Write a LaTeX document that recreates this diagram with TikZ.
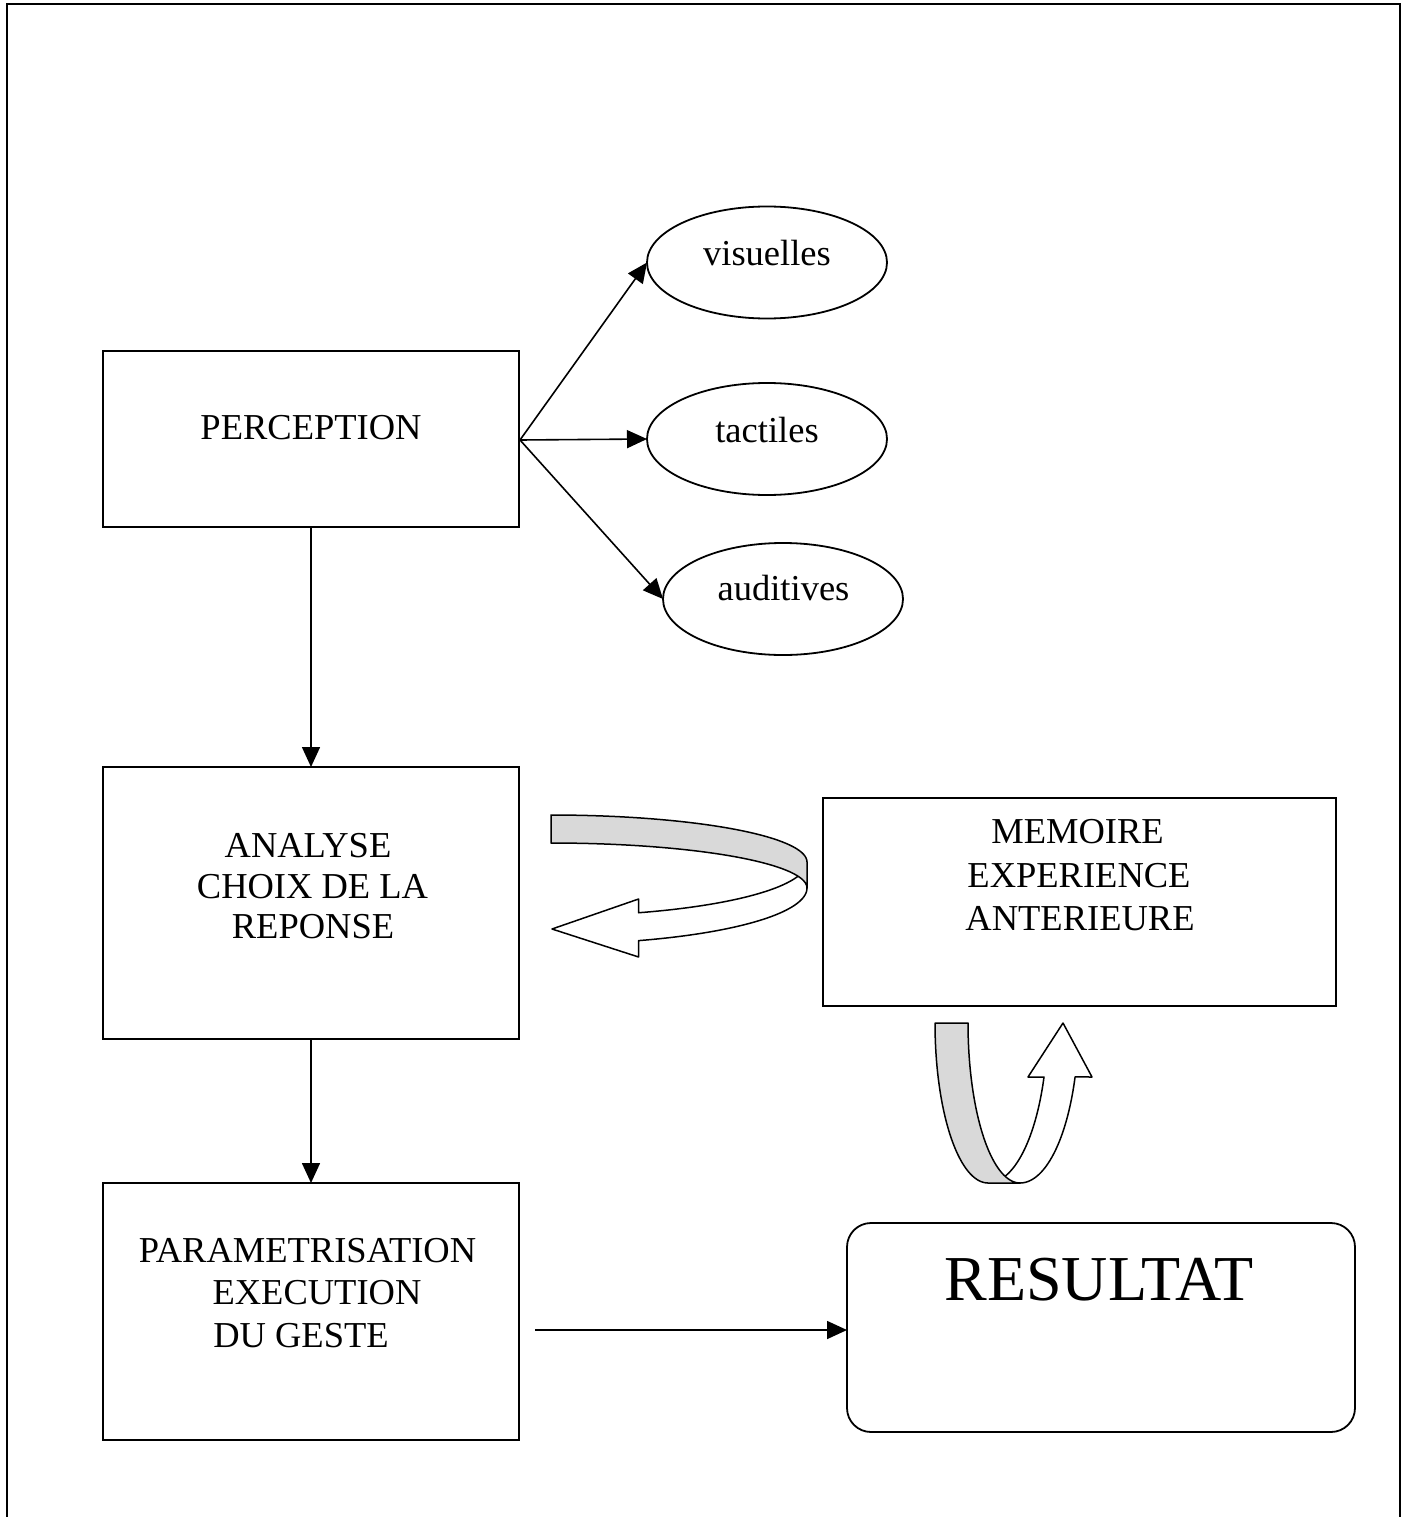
\documentclass[tikz,border=0pt]{standalone}
\usepackage{fontspec}
\setmainfont{Liberation Serif}
\usetikzlibrary{arrows.meta,shapes.geometric}

\begin{document}
\begin{tikzpicture}[x=1pt,y=-1pt,
  box/.style={draw, line width=1.8pt, inner sep=0pt, outer sep=0pt},
  oval/.style={draw, ellipse, line width=1.8pt, inner sep=0pt, outer sep=0pt,
    minimum width=240pt, minimum height=112pt},
  lbl/.style={font=\fontsize{36.5}{42}\selectfont, inner sep=0pt, anchor=base},
  biglbl/.style={font=\fontsize{64}{72}\selectfont, inner sep=0pt, anchor=base},
  arr/.style={line width=1.6pt, -{Triangle[length=20pt,width=18pt]}},
  band/.style={line width=1.5pt, line join=round}]

% page and outer frame
\fill[white] (0,0) rectangle (1406,1517);
\useasboundingbox (0,0) rectangle (1406,1517);
\draw[line width=2.6pt] (7,1520) -- (7,4) -- (1400,4) -- (1400,1520);

% boxes
\node[box, minimum width=416pt, minimum height=176pt] (perc) at (311,439) {};
\node[box, minimum width=416pt, minimum height=272pt] (anal) at (311,903) {};
\node[box, minimum width=416pt, minimum height=257pt] (param) at (311,1311.5) {};
\node[box, minimum width=513pt, minimum height=208pt] (mem) at (1079.5,902) {};
\node[box, rounded corners=24pt, minimum width=508pt, minimum height=209pt] (res) at (1101,1327.5) {};

% senses
\node[oval] (vis) at (767,262.5) {};
\node[oval] (tac) at (767,439) {};
\node[oval] (aud) at (783,599) {};

% labels
\node[lbl] (tperc) at (311,439) {PERCEPTION};
\node[lbl] (tvis) at (767,265) {visuelles};
\node[lbl] (ttac) at (767,442) {tactiles};
\node[lbl] (taud) at (783.5,600) {auditives};
\node[lbl] (tan1) at (308,857) {ANALYSE};
\node[lbl] (tan2) at (312.5,898) {CHOIX DE LA};
\node[lbl] (tan3) at (313,938) {REPONSE};
\node[lbl] (tpa1) at (307.5,1262) {PARAMETRISATION};
\node[lbl] (tpa2) at (317,1304) {EXECUTION};
\node[lbl] (tpa3) at (301,1347) {DU GESTE};
\node[lbl] (tme1) at (1077.5,843) {MEMOIRE};
\node[lbl] (tme2) at (1079,887) {EXPERIENCE};
\node[lbl] (tme3) at (1080,930) {ANTERIEURE};
\node[biglbl] (tres) at (1099,1300) {RESULTAT};

% connectors
\coordinate (src) at (520,440);
\coordinate (pout) at (535,1330);
\draw[arr] (src) -- (vis.west);
\draw[arr] (src) -- (tac.west);
\draw[arr] (src) -- (aud.west);
\draw[arr] (perc.south) -- (anal.north);
\draw[arr] (anal.south) -- (param.north);
\draw[arr] (pout) -- (pout -| res.west);

% U-turn arrow from memory back to analysis
\filldraw[band, fill=white]
  plot[domain=0:70, samples=40] ({551+256*cos(\x)},{888+56*sin(\x)})
  -- (638.6,957) -- (552,929) -- (638.6,899) -- (638.6,912.7)
  -- plot[domain=70:0, samples=40] ({551+256*cos(\x)},{862+54*sin(\x)})
  -- cycle;
\filldraw[band, fill=black!15]
  plot[domain=90:0, samples=40] ({551+256*cos(\x)},{862-47*sin(\x)})
  -- (807,888)
  -- plot[domain=0:90, samples=40] ({551+256*cos(\x)},{888-45*sin(\x)})
  -- cycle;

% U-turn arrow between memory and result
\filldraw[band, fill=white]
  plot[domain=90:19.7, samples=40] ({1020+58.5*cos(\x)},{1023+160*sin(\x)})
  -- (1092,1077) -- (1063,1023) -- (1028,1077) -- (1044,1077)
  -- plot[domain=19.7:90, samples=40] ({988+59.5*cos(\x)},{1023+160*sin(\x)})
  -- cycle;
\filldraw[band, fill=black!15]
  (935,1023) -- (968,1023)
  -- plot[domain=180:90, samples=40] ({1020+52*cos(\x)},{1023+160*sin(\x)})
  -- plot[domain=90:180, samples=40] ({988+53*cos(\x)},{1023+160*sin(\x)})
  -- cycle;
\end{tikzpicture}
\end{document}
